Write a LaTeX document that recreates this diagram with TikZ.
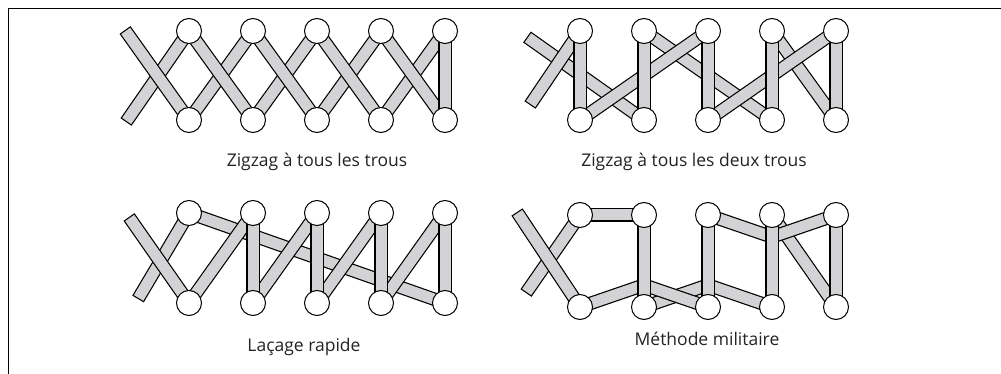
\documentclass[tikz,border=0pt]{standalone}
\usepackage{fontspec}
\setmainfont{Open Sans}
\usetikzlibrary{backgrounds}

\definecolor{lacegray}{RGB}{211,211,213}
\definecolor{labelgray}{RGB}{35,35,35}

\tikzset{
    hole/.style={circle, draw, line width=1pt, fill=white, minimum size=25pt, inner sep=0pt},
    laceline/.style={line width=13.4pt, black},
    lacefill/.style={line width=11pt, lacegray, shorten >=1.2pt, shorten <=1.2pt},
    caption/.style={anchor=base, font=\fontsize{17.5}{20}\selectfont, text=labelgray}
}
% one lace bar, outline first, then the grey inside
\newcommand{\lacebar}[2]{%
    \draw[laceline] (#1.center) -- (#2.center);
    \draw[lacefill] (#1.center) -- (#2.center);
}

\begin{document}
\begin{tikzpicture}[x=1pt, y=-1pt]
    \useasboundingbox (0,0) rectangle (1001,374);
    \draw[line width=1.2pt] (8.5,374) -- (8.5,8.5) -- (1001,8.5);

    % Zigzag a tous les trous
    \node[hole] (at1) at (189,31) {}; \node[hole] (at2) at (253,31) {}; \node[hole] (at3) at (317,31) {}; \node[hole] (at4) at (381,31) {}; \node[hole] (at5) at (445,31) {};
    \node[hole] (ab1) at (189,120) {}; \node[hole] (ab2) at (253,120) {}; \node[hole] (ab3) at (317,120) {}; \node[hole] (ab4) at (381,120) {}; \node[hole] (ab5) at (445,120) {};
    \coordinate (aul) at (125,30);
    \coordinate (all) at (126,122);
    \begin{pgfonlayer}{background}
        \lacebar{all}{at1}
        \lacebar{aul}{ab1}
        \lacebar{ab1}{at2} \lacebar{at1}{ab2}
        \lacebar{ab2}{at3} \lacebar{at2}{ab3}
        \lacebar{ab3}{at4} \lacebar{at3}{ab4}
        \lacebar{ab4}{at5} \lacebar{at4}{ab5}
        \lacebar{at5}{ab5}
    \end{pgfonlayer}
    \node[caption] (alabel) at (317,167) {Zigzag à tous les trous};

    % Zigzag a tous les deux trous
    \node[hole] (bt1) at (580,31) {}; \node[hole] (bt2) at (644,31) {}; \node[hole] (bt3) at (708,31) {}; \node[hole] (bt4) at (772,31) {}; \node[hole] (bt5) at (836,31) {};
    \node[hole] (bb1) at (580,120) {}; \node[hole] (bb2) at (644,120) {}; \node[hole] (bb3) at (708,120) {}; \node[hole] (bb4) at (772,120) {}; \node[hole] (bb5) at (836,120) {};
    \coordinate (bul) at (527,37);
    \coordinate (bll) at (530,105);
    \begin{pgfonlayer}{background}
        \lacebar{bul}{bb2}
        \lacebar{bll}{bt1}
        \lacebar{bt2}{bb4}
        \lacebar{bb1}{bt3}
        \lacebar{bt4}{bb5}
        \lacebar{bb3}{bt5}
        \lacebar{bt1}{bb1} \lacebar{bt2}{bb2} \lacebar{bt3}{bb3} \lacebar{bt4}{bb4} \lacebar{bt5}{bb5}
    \end{pgfonlayer}
    \node[caption] (blabel) at (694,167) {Zigzag à tous les deux trous};

    % Lacage rapide
    \node[hole] (ct1) at (189,213) {}; \node[hole] (ct2) at (253,213) {}; \node[hole] (ct3) at (317,213) {}; \node[hole] (ct4) at (381,213) {}; \node[hole] (ct5) at (445,213) {};
    \node[hole] (cb1) at (189,303) {}; \node[hole] (cb2) at (253,303) {}; \node[hole] (cb3) at (317,303) {}; \node[hole] (cb4) at (381,303) {}; \node[hole] (cb5) at (445,303) {};
    \coordinate (cul) at (129,217);
    \coordinate (cll) at (138,299);
    \begin{pgfonlayer}{background}
        \lacebar{ct1}{cb5}
        \lacebar{cll}{ct1}
        \lacebar{cul}{cb1}
        \lacebar{cb1}{ct2} \lacebar{cb2}{ct3} \lacebar{cb3}{ct4} \lacebar{cb4}{ct5}
        \lacebar{ct2}{cb2} \lacebar{ct3}{cb3} \lacebar{ct4}{cb4} \lacebar{ct5}{cb5}
    \end{pgfonlayer}
    \node[caption] (clabel) at (304,351) {Laçage rapide};

    % Methode militaire
    \node[hole] (dt1) at (580,215) {}; \node[hole] (dt2) at (644,215) {}; \node[hole] (dt3) at (708,215) {}; \node[hole] (dt4) at (772,215) {}; \node[hole] (dt5) at (836,215) {};
    \node[hole] (db1) at (580,307) {}; \node[hole] (db2) at (644,307) {}; \node[hole] (db3) at (708,307) {}; \node[hole] (db4) at (772,307) {}; \node[hole] (db5) at (836,307) {};
    \coordinate (dul) at (517,212);
    \coordinate (dll) at (526,293);
    \coordinate (dp) at (644,285);
    \coordinate (dq) at (708,285);
    \coordinate (dr) at (772,237);
    \begin{pgfonlayer}{background}
        \lacebar{dll}{dt1}
        \lacebar{dul}{db1}
        \lacebar{dt1}{dt2}
        \lacebar{db2}{dq} \lacebar{dq}{db4}
        \lacebar{db1}{dp} \lacebar{dp}{db3}
        \lacebar{dt4}{db5}
        \lacebar{dt3}{dr} \lacebar{dr}{dt5}
        \lacebar{dt2}{db2} \lacebar{dt3}{db3} \lacebar{dt4}{db4} \lacebar{dt5}{db5}
    \end{pgfonlayer}
    \node[caption] (dlabel) at (707,345) {Méthode militaire};
\end{tikzpicture}
\end{document}
